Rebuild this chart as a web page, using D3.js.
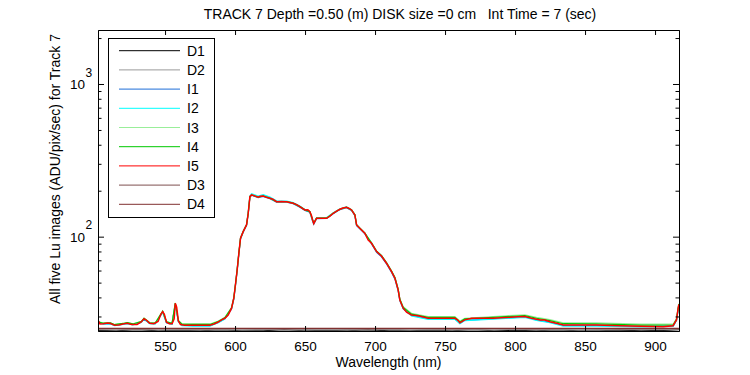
<!DOCTYPE html>
<html>
<head>
<meta charset="utf-8">
<script src="https://cdn.jsdelivr.net/npm/d3@7"></script>
<style>
  body { margin: 0; background: #fff; }
  svg { font-family: "Liberation Sans Narrow", "Liberation Sans", Arial, sans-serif; }
</style>
</head>
<body>
<div id="chart"></div>
<script>
// Titulos e rotulos
const title = "TRACK 7 Depth =0.50 (m) DISK size =0 cm   Int Time = 7 (sec)";
const xLabel = "Wavelength (nm)";
const yLabel = "All five Lu images (ADU/pix/sec) for Track 7";
const xTicks = [550, 600, 650, 700, 750, 800, 850, 900];
const yMajor = [100, 1000];
const yMinor = [30, 40, 50, 60, 70, 80, 90, 200, 300, 400, 500, 600, 700, 800, 900, 2000];
const seriesNames = ["D1", "D2", "I1", "I2", "I3", "I4", "I5", "D3", "D4"];
const seriesColors = ["#000000", "#999999", "#1e6ed8", "#00ffff", "#99ee99", "#00c800", "#ff0000", "#7f4f4f", "#803030"];

// I5 (vermelho) - grade fina
const wlRed = [
  502,503.5,506,509,511,514,517,520,523,526,
  530,533,535,537,539,542,545,547,548.3,549.5,
  551,553,555,556.5,557.3,558.3,559.5,561,564,570,
  576,582,585,588,590.4,592.7,595.1,597.5,599.1,600.4,
  601.5,602.7,603.9,605.8,608.2,609.4,610.6,611.8,614,616.5,
  618,620.1,622.5,624.9,627,629.6,633,636.8,641.5,644,
  646.3,649.9,652,653.4,654.5,655.4,656.2,657,658.2,661,
  665.4,668,670.1,672.5,674.9,677,679.6,681.5,683.2,685.6,
  686.8,689.1,692.7,695.1,697.5,701.1,704.6,708.2,711.8,714.2,
  716.5,717.7,720.1,722.5,726,730.8,738,748.6,757,759,
  760.6,762,764.1,769,784.3,796.3,802,807,811.8,815.3,
  818,821.3,824.9,829.6,834.4,845,858.2,874.9,890,905.8,
  912.9,915.3,916.5,917
];
const luI5 = [
  28.5,26.8,26.9,27.2,27.0,26.3,26.4,26.8,27.1,26.6,
  26.6,27.6,29.0,28.2,27.1,26.9,27.8,31.0,32.3,31.0,
  27.5,26.9,26.9,29.0,36.6,34.5,28.0,26.6,26.3,26.3,
  26.3,26.3,26.8,27.6,28.5,29.2,30.7,34.0,39.5,49.5,
  60.5,77.8,97.6,107.9,119.3,142.3,182.8,187.6,185,181.1,
  184,184.8,181,178.3,176,169.4,170,169.4,165.5,162,
  157.1,149.6,150,145.8,138,128.5,122,126,132,132,
  132,137,142.3,147,151.1,154,155.8,153,149.6,138.7,
  119.3,113.5,105.3,95.1,90.5,79.8,74.7,67,59,53.4,
  44.8,38.5,34,32,30.7,30.3,29.2,29.2,29.2,28.4,
  27.3,27.8,28.5,29.2,29.2,29.6,29.9,30.0,29.2,28.8,
  28.5,28.4,27.7,27.1,26.4,26.4,26.4,26.1,25.9,25.7,
  26.1,28.5,34,36
];

// I1..I4 - grade comum
const wlLu = [
  502,506,511,514,520,523,527,533,535,539,
  543,547,548.3,551,555,557.3,559.5,562,570,582,
  588,592.7,597.5,599.1,600.4,601.5,602.7,603.9,605.8,608.2,
  609.4,610.6,611.8,616.5,620.1,624.9,629.6,636.8,641.5,646.3,
  649.9,653.4,655.4,656.2,658.2,665.4,670.1,674.9,679.6,683.2,
  685.6,686.8,689.1,692.7,697.5,701.1,704.6,708.2,711.8,714.2,
  716.5,717.7,720.1,726,738,757,760.6,764.1,784.3,807,
  815.3,824.9,834.4,858.2,890,912.9,915.3,917
];
const luI1 = [
  27.3,26.8,26.9,26.2,26.7,27.0,26.5,27.5,28.8,27.0,
  26.9,30.6,32.0,27.3,26.8,36.0,27.8,26.3,26.1,26.1,
  27.4,29.0,33.6,39.0,48.8,59.8,77.0,96.5,107.0,118.5,
  141.0,181.5,186.8,180.0,183.5,177.0,168.5,168.5,164.5,156.0,
  148.5,144.5,126.0,120.5,131.0,131.5,141.5,150.5,155.0,148.5,
  137.5,118.0,112.5,104.2,89.5,79.0,73.8,66.2,58.3,52.7,
  44.2,38.1,33.7,30.5,29.0,29.0,27.1,28.3,29.0,29.8,
  28.5,27.5,26.2,26.2,25.8,26.0,28.3,35.5
];
const luI2 = [
  27.4,26.8,26.8,26.1,26.6,26.9,26.4,27.4,28.9,26.9,
  26.8,30.8,32.1,27.3,26.7,36.3,27.8,26.1,25.9,25.9,
  27.3,28.9,33.8,39.3,49.3,60.3,77.5,97.8,108.5,120.0,
  143.5,185.0,191.0,184.5,188.5,181.5,171.5,171.0,167.0,158.5,
  150.5,146.5,129.0,123.0,133.5,133.5,143.5,152.0,156.5,150.0,
  139.0,119.5,113.8,105.5,91.0,80.2,75.2,67.5,59.4,53.8,
  45.0,38.7,33.9,30.3,28.7,28.8,26.9,28.2,28.8,29.6,
  28.3,27.3,25.9,25.9,25.6,25.8,28.2,35.6
];
const luI3 = [
  27.8,27.2,27.3,26.6,27.1,27.4,26.9,27.9,29.3,27.4,
  27.3,31.2,32.5,27.8,27.2,36.8,28.3,26.9,26.8,26.8,
  28.0,29.6,34.3,39.8,49.8,60.8,78.0,97.8,108.2,119.8,
  142.8,183.2,188.0,181.5,185.0,178.6,169.8,169.8,165.9,157.5,
  150.0,146.3,129.0,122.6,132.4,132.4,142.7,151.6,156.2,150.0,
  139.2,119.8,114.0,105.9,91.1,80.4,75.3,67.7,59.7,54.2,
  45.5,39.2,34.8,31.5,30.0,30.0,28.0,29.2,30.0,30.8,
  29.6,28.6,27.3,27.3,26.7,26.8,29.0,36.4
];
const luI4 = [
  27.7,27.1,27.2,26.5,27.0,27.3,26.8,27.8,29.2,27.3,
  27.2,31.1,32.4,27.7,27.1,36.7,28.2,26.7,26.6,26.6,
  27.8,29.4,34.2,39.7,49.7,60.7,78.0,97.7,108.0,119.5,
  142.5,183.0,187.8,181.3,185.0,178.5,169.6,169.6,165.7,157.3,
  149.8,146.0,128.7,122.3,132.2,132.2,142.5,151.3,156.0,149.8,
  139.0,119.6,113.8,105.6,90.8,80.2,75.1,67.4,59.4,53.8,
  45.2,38.9,34.4,31.1,29.6,29.6,27.6,28.9,29.6,30.4,
  29.2,28.2,26.9,26.8,26.3,26.4,28.8,36.2
];

// Escuros (dark)
const wlDark = [502,515,530,545,560,575,590,605,620,635,650,665,680,695,710,725,740,755,770,785,800,815,830,845,860,875,890,905,917];
const darkD1 = [24.3,24.2,24.6,24.2,24.3,24.2,24.5,24.2,24.2,24.6,24.2,24.3,24.2,24.5,24.2,24.2,24.4,24.2,24.6,24.2,24.3,24.2,24.5,24.2,24.2,24.4,24.2,24.3,24.6];
const darkD2 = [24.6,24.5,24.7,24.5,24.6,24.5,24.6,24.5,24.7,24.5,24.6,24.5,24.6,24.5,24.7,24.5,24.6,24.5,24.6,24.5,24.7,24.5,24.6,24.5,24.6,24.5,24.7,24.6,24.8];
const darkD3 = [25.0,25.0,24.9,25.0,25.0,24.9,25.0,25.0,25.0,24.9,25.0,25.0,25.0,24.9,25.0,25.0,25.0,24.9,25.0,25.0,25.0,24.9,25.0,25.0,25.0,24.9,25.0,25.0,25.0];
const darkD4 = [25.1,25.1,25.1,25.1,25.1,25.1,25.1,25.1,25.1,25.1,25.1,25.1,25.1,25.1,25.1,25.1,25.1,25.1,25.1,25.1,25.1,25.1,25.1,25.1,25.1,25.1,25.1,25.1,25.1];

const seriesData = [
  [wlDark, darkD1], [wlDark, darkD2],
  [wlLu, luI1], [wlLu, luI2], [wlLu, luI3], [wlLu, luI4],
  [wlRed, luI5],
  [wlDark, darkD3], [wlDark, darkD4]
];

const width = 750, height = 375;
const margins = { top: 30, right: 71, bottom: 44, left: 98 };

const svg = d3.select("#chart").append("svg")
  .attr("width", width)
  .attr("height", height);

const xScale = d3.scaleLinear()
  .domain([502.1, 917.1])
  .range([margins.left, width - margins.right]);

const yScale = d3.scaleLog()
  .domain([24.1, 2258])
  .range([height - margins.bottom, margins.top]);

// clip da area do grafico
svg.append("clipPath").attr("id", "clip")
  .append("rect")
  .attr("x", margins.left).attr("y", margins.top)
  .attr("width", width - margins.left - margins.right)
  .attr("height", height - margins.top - margins.bottom);

// Linhas
const line = d3.line()
  .x(d => xScale(d[0]))
  .y(d => yScale(d[1]));

const plot = svg.append("g").attr("clip-path", "url(#clip)");
seriesData.forEach(([wl, vals], i) => {
  plot.append("path")
    .datum(d3.zip(wl, vals))
    .attr("fill", "none")
    .attr("stroke", seriesColors[i])
    .attr("stroke-width", i === 6 ? 1.5 : 1.2)
    .attr("d", line);
});

// Eixos
const bottom = height - margins.bottom;
const right = width - margins.right;

const gx = svg.append("g")
  .attr("transform", `translate(0, ${bottom})`)
  .call(d3.axisBottom(xScale).tickValues(xTicks).tickSize(-5).tickSizeOuter(0).tickPadding(10));
gx.selectAll("text").attr("font-size", 13.5).attr("fill", "#000").style("font-family", null);

svg.append("g")
  .attr("transform", `translate(0, ${margins.top})`)
  .call(d3.axisTop(xScale).tickValues(xTicks).tickSize(-5).tickSizeOuter(0).tickFormat(""));

svg.append("g")
  .attr("transform", `translate(${margins.left}, 0)`)
  .call(d3.axisLeft(yScale).tickValues(yMajor).tickSize(-6).tickSizeOuter(0).tickFormat(""));
svg.append("g")
  .attr("transform", `translate(${margins.left}, 0)`)
  .call(d3.axisLeft(yScale).tickValues(yMinor).tickSize(-3.5).tickSizeOuter(0).tickFormat(""));
svg.append("g")
  .attr("transform", `translate(${right}, 0)`)
  .call(d3.axisRight(yScale).tickValues(yMajor).tickSize(-6).tickSizeOuter(0).tickFormat(""));
svg.append("g")
  .attr("transform", `translate(${right}, 0)`)
  .call(d3.axisRight(yScale).tickValues(yMinor).tickSize(-3.5).tickSizeOuter(0).tickFormat(""));

svg.selectAll(".domain, .tick line").attr("stroke", "#000");

// rotulos 10^n
yMajor.forEach(v => {
  svg.append("text")
    .attr("x", 85).attr("y", yScale(v) + 5.3)
    .attr("text-anchor", "end")
    .attr("font-size", 13.5)
    .text("10");
  svg.append("text")
    .attr("x", 85.5).attr("y", yScale(v) - 7.3)
    .attr("font-size", 12)
    .text(Math.round(Math.log10(v)));
});

// Titulo e rotulos dos eixos
svg.append("text")
  .attr("x", 400).attr("y", 19)
  .attr("text-anchor", "middle")
  .attr("font-size", 14)
  .style("white-space", "pre")
  .text(title);

svg.append("text")
  .attr("x", (margins.left + right) / 2).attr("y", 367)
  .attr("text-anchor", "middle")
  .attr("font-size", 14)
  .text(xLabel);

svg.append("text")
  .attr("transform", "rotate(-90)")
  .attr("x", -169).attr("y", 60)
  .attr("text-anchor", "middle")
  .attr("font-size", 14)
  .text(yLabel);

// Legenda
const legend = svg.append("g");
legend.append("rect")
  .attr("x", 108.5).attr("y", 38.5)
  .attr("width", 106).attr("height", 179)
  .attr("fill", "#fff").attr("stroke", "#000");

seriesNames.forEach((name, i) => {
  const yy = 50.7 + i * 19.2;
  legend.append("line")
    .attr("x1", 119).attr("x2", 180)
    .attr("y1", yy).attr("y2", yy)
    .attr("stroke", seriesColors[i]).attr("stroke-width", 1);
  legend.append("text")
    .attr("x", 187).attr("y", yy + 5)
    .attr("font-size", 14)
    .text(name);
});
</script>
</body>
</html>
